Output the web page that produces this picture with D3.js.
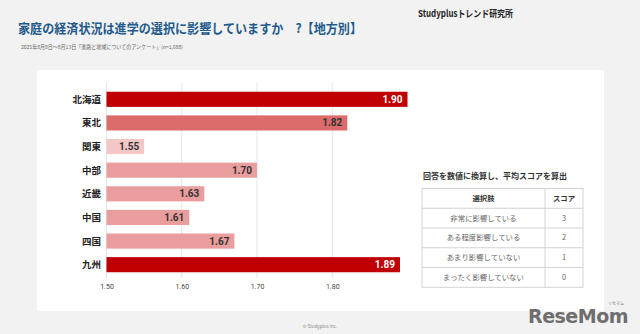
<!DOCTYPE html>
<html><head><meta charset="utf-8">
<script src="https://cdn.jsdelivr.net/npm/d3@7"></script>
<style>body{margin:0;background:#f2f2f2;}svg{display:block;font-family:"Noto Sans CJK JP","Noto Sans",sans-serif;}</style>
</head><body>
<svg id="c" width="640" height="334"></svg>
<script>
const categories = ["北海道","東北","関東","中部","近畿","中国","四国","九州"];
const values = [1.90,1.82,1.55,1.70,1.63,1.61,1.67,1.89];
const barColors = ["#c00000","#dc6b6b","#f4c7c7","#e99d9d","#e99d9d","#e99d9d","#e99d9d","#c00000"];
const tickValues = [1.50,1.60,1.70,1.80];
const tableHeader = ["選択肢","スコア"];
const tableChoices = ["非常に影響している","ある程度影響している","あまり影響していない","まったく影響していない"];
const tableScores = [3,2,1,0];

const svg = d3.select("#c");
svg.append("rect").attr("width",640).attr("height",334).attr("fill","#f2f2f2");
svg.append("rect").attr("x",37).attr("y",70).attr("width",567).attr("height",241).attr("rx",2).attr("fill","#fff");

svg.append("text").attr("x",418).attr("y",17)
  .attr("font-size",9.5).attr("font-weight","bold").attr("fill","#222")
  .attr("textLength",95).attr("lengthAdjust","spacingAndGlyphs").text("Studyplusトレンド研究所");
svg.append("text").attr("x",18).attr("y",33).attr("font-size",13).attr("font-weight","bold")
  .attr("fill","#1e5a8c").attr("textLength",344).attr("lengthAdjust","spacingAndGlyphs")
  .text("家庭の経済状況は進学の選択に影響していますか　?【地方別】");
svg.append("text").attr("x",21).attr("y",49).attr("font-size",5.3).attr("fill","#666")
  .attr("textLength",162).attr("lengthAdjust","spacingAndGlyphs")
  .text("2025年8月8日～8月13日「進路と地域についてのアンケート」(n=1,688)");

const x = d3.scaleLinear().domain([1.5,1.9]).range([106.5,407.5]);
const y = d3.scaleBand().domain(categories).range([87.5,276.5]).paddingInner(0.36).paddingOuter(0.18);

const g = svg.append("g");
g.selectAll("line.grid").data(tickValues).enter().append("line")
  .attr("x1",d=>x(d)).attr("x2",d=>x(d)).attr("y1",83).attr("y2",278)
  .attr("stroke","#dddddd").attr("stroke-width",0.8);

const axis = d3.axisBottom(x).tickValues(tickValues).tickFormat(d3.format(".2f")).tickSize(0);
const ax = svg.append("g").attr("transform","translate(0,281)").call(axis);
ax.select(".domain").remove();
ax.selectAll("text").attr("font-size",7).attr("fill","#444").attr("font-family","Roboto,sans-serif");

g.selectAll("rect.bar").data(values).enter().append("rect")
  .attr("x",x(1.5)).attr("y",(d,i)=>y(categories[i]))
  .attr("width",d=>x(d)-x(1.5)).attr("height",y.bandwidth())
  .attr("fill",(d,i)=>barColors[i]);

g.selectAll("text.val").data(values).enter().append("text")
  .attr("x",d=>x(d)-5).attr("y",(d,i)=>y(categories[i])+y.bandwidth()/2+3.5)
  .attr("text-anchor","end").attr("font-size",10).attr("font-weight","bold")
  .attr("font-family","Roboto,sans-serif")
  .attr("fill",(d,i)=>barColors[i]==="#c00000"?"#fff":"#333")
  .text(d=>d3.format(".2f")(d));

g.selectAll("text.cat").data(categories).enter().append("text")
  .attr("x",101).attr("y",d=>y(d)+y.bandwidth()/2+3.5)
  .attr("text-anchor","end").attr("font-size",9.5).attr("font-weight","bold").attr("fill","#222")
  .text(d=>d);

// table
svg.append("text").attr("x",423).attr("y",179).attr("font-size",7.8).attr("font-weight","bold")
  .attr("fill","#333").attr("textLength",144).attr("lengthAdjust","spacingAndGlyphs")
  .text("回答を数値に換算し、平均スコアを算出");
const tx0=422, tx1=545, tx2=583, ty0=188.5, rh=19.75;
const rows = [tableHeader].concat(tableChoices.map((c,i)=>[c,String(tableScores[i])]));
const tg = svg.append("g");
tg.append("rect").attr("x",tx0).attr("y",ty0).attr("width",tx2-tx0).attr("height",rh*rows.length)
  .attr("fill","#fff").attr("stroke","#c8c8c8").attr("stroke-width",0.8);
for(let i=1;i<rows.length;i++) tg.append("line").attr("x1",tx0).attr("x2",tx2)
  .attr("y1",ty0+rh*i).attr("y2",ty0+rh*i).attr("stroke","#c8c8c8").attr("stroke-width",0.8);
tg.append("line").attr("x1",tx1).attr("x2",tx1).attr("y1",ty0).attr("y2",ty0+rh*rows.length)
  .attr("stroke","#c8c8c8").attr("stroke-width",0.8);
rows.forEach((r,i)=>{
  const cy = ty0+rh*i+rh/2+2.6;
  tg.append("text").attr("x",(tx0+tx1)/2).attr("y",cy).attr("text-anchor","middle")
    .attr("font-size",7.4).attr("font-weight",i===0?"bold":"normal").attr("fill",i===0?"#333":"#666").text(r[0]);
  tg.append("text").attr("x",(tx1+tx2)/2).attr("y",cy).attr("text-anchor","middle")
    .attr("font-size",7.4).attr("font-weight",i===0?"bold":"normal").attr("fill",i===0?"#333":"#666").text(r[1]);
});

svg.append("text").attr("x",320).attr("y",328).attr("text-anchor","middle").attr("font-size",4.5)
  .attr("fill","#888").text("© Studyplus Inc.");

// logo
svg.append("text").attr("x",628).attr("y",323).attr("text-anchor","end")
  .attr("font-family","'DejaVu Sans',sans-serif").attr("font-weight","bold").attr("font-size",19)
  .attr("fill","#6e6e6e").attr("letter-spacing",-0.5).text("ReseMom");
svg.append("text").attr("x",624).attr("y",305).attr("text-anchor","end").attr("font-size",4)
  .attr("fill","#777").text("リセマム");
</script>
</body></html>
